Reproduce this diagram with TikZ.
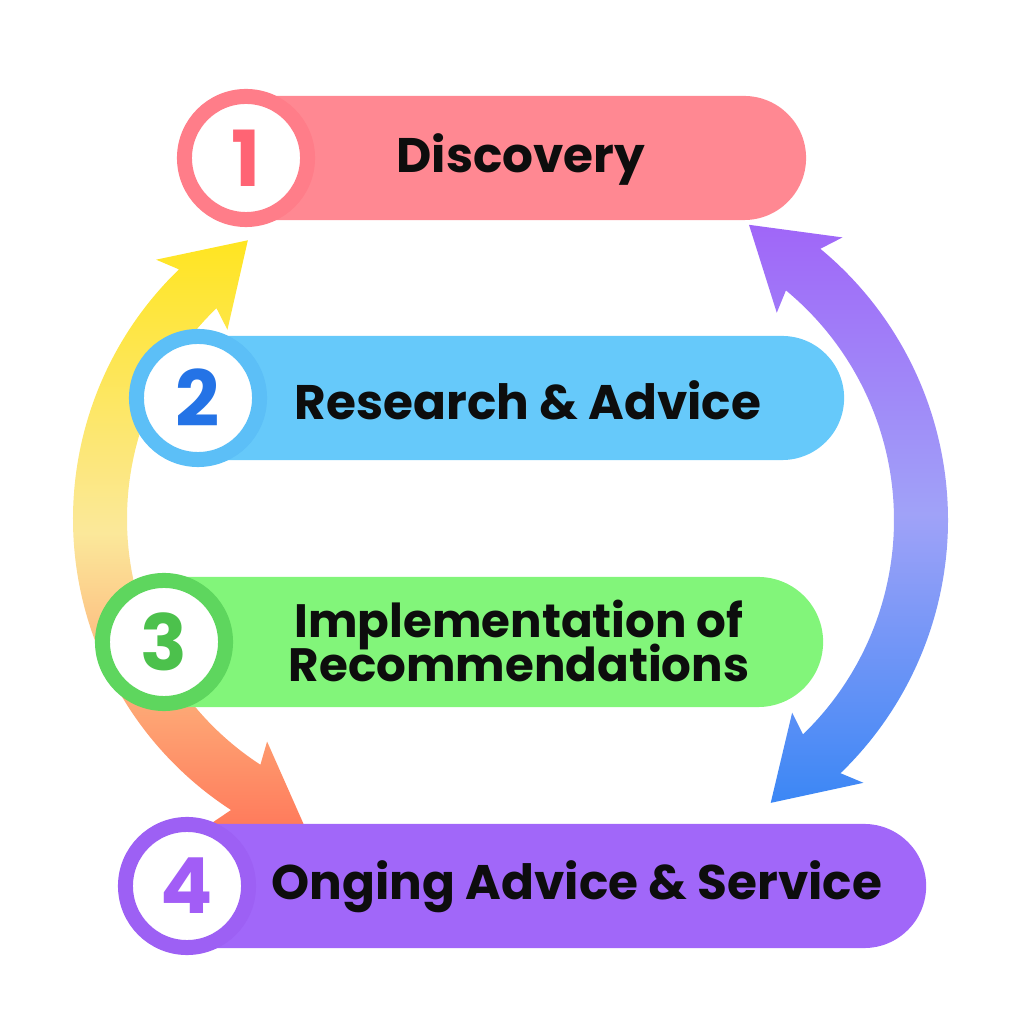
\documentclass[tikz,border=0pt]{standalone}
\usepackage{fontspec}
\setmainfont{Poppins}
\usetikzlibrary{calc}
\definecolor{pinkbar}{HTML}{FF8892}
\definecolor{pinkring}{HTML}{FF7D89}
\definecolor{pinknum}{HTML}{FF6474}
\definecolor{bluebar}{HTML}{66C9FA}
\definecolor{bluering}{HTML}{5CBFF7}
\definecolor{bluenum}{HTML}{2473E6}
\definecolor{greenbar}{HTML}{82F57A}
\definecolor{greenring}{HTML}{5ED65E}
\definecolor{greennum}{HTML}{4CC14C}
\definecolor{purplebar}{HTML}{A167F9}
\definecolor{purplering}{HTML}{9D60F4}
\definecolor{purplenum}{HTML}{A25DF6}
\definecolor{arrowyellow}{HTML}{FFE521}
\definecolor{arrowpale}{HTML}{FBE89A}
\definecolor{arroworange}{HTML}{FF7B5C}
\definecolor{arrowpurple}{HTML}{A066F8}
\definecolor{arrowlilac}{HTML}{A0A2F8}
\definecolor{arrowblue}{HTML}{3B87F5}
\begin{document}
\begin{tikzpicture}[x=0.01cm, y=0.01cm, line join=round,
	stagebar/.style={fill=#1, inner sep=0, minimum height=1.24cm, rounded corners=0.62cm, anchor=west},
	stagering/.style={circle, draw=#1, fill=white, line width=0.15cm, minimum size=1.23cm, inner sep=0, font=\fontsize{22}{22}\selectfont\bfseries},
	stagetext/.style={font={\fontsize{13.8}{12.3}\selectfont\bfseries\lineskiplimit=-20pt\relax}, text=black!95, align=center, inner sep=0}]
	\useasboundingbox (0,0) rectangle (1024,1024);
	\coordinate (lc) at (420,505);
	\coordinate (rc) at (596,504);
	% arrows behind the bars
	\shade[top color=arrowyellow, bottom color=arroworange, middle color=arrowpale]
		($(lc)+(134:347)$) arc[start angle=134, end angle=237, radius=347]
		-- ($(lc)+(235.5:370)$) -- ($(lc)+(249.3:327.6)$) -- ($(lc)+(235.5:270)$)
		-- ($(lc)+(237:293)$) arc[start angle=237, end angle=134, radius=293]
		-- ($(lc)+(135.5:270)$) -- ($(lc)+(121.7:327.6)$) -- ($(lc)+(135.5:370)$) -- cycle;
	\shade[top color=arrowpurple, bottom color=arrowblue, middle color=arrowlilac]
		($(rc)+(-46:352)$) arc[start angle=-46, end angle=50.4, radius=352]
		-- ($(rc)+(48.9:375)$) -- ($(rc)+(62.6:332.5)$) -- ($(rc)+(48.9:275)$)
		-- ($(rc)+(50.4:298)$) arc[start angle=50.4, end angle=-46, radius=298]
		-- ($(rc)+(-44.5:275)$) -- ($(rc)+(-58.3:332.5)$) -- ($(rc)+(-44.5:375)$) -- cycle;
	% bars
	\node[stagebar=pinkbar, minimum width=6.19cm] (bar1) at (186,866) {};
	\node[stagebar=bluebar, minimum width=7.05cm] (bar2) at (138,626) {};
	\node[stagebar=greenbar, minimum width=7.18cm, minimum height=1.3cm, rounded corners=0.65cm] (bar3) at (104,382) {};
	\node[stagebar=purplebar, minimum width=7.98cm] (bar4) at (127,138) {};
	% numbers
	\node[stagering=pinkring, text=pinknum] (num1) at (246,866) {1};
	\node[stagering=bluering, text=bluenum] (num2) at (198,626) {2};
	\node[stagering=greenring, text=greennum] (num3) at (164,382) {3};
	\node[stagering=purplering, text=purplenum] (num4) at (187,138) {4};
	% texts
	\node[stagetext] (txt1) at (521,864) {Discovery};
	\node[stagetext, font={\fontsize{13.3}{12.3}\selectfont\bfseries\lineskiplimit=-20pt\relax}] (txt3) at (519,383) {Implementation of\\Recommendations};
	\node[stagetext] (txt2) at (528,624) {Research \& Advice};
	\node[stagetext] (txt4) at (577,137) {Onging Advice \& Service};
\end{tikzpicture}
\end{document}
